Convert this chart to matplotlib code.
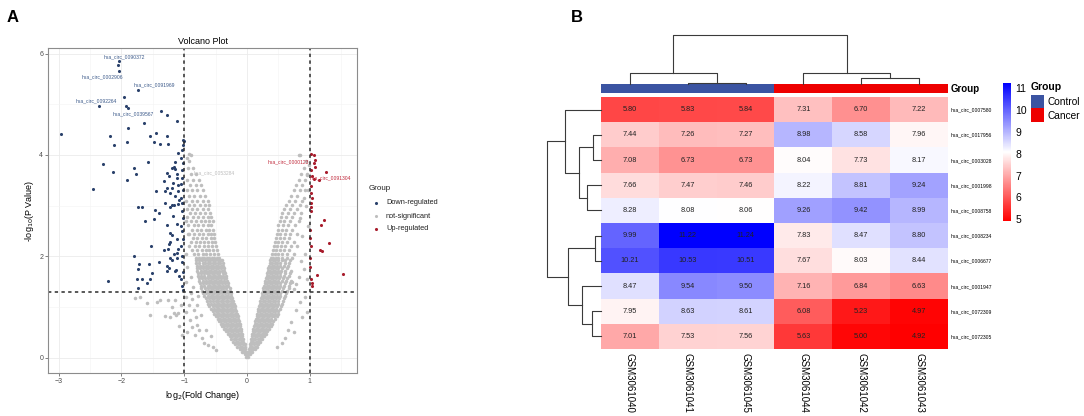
import matplotlib
matplotlib.use('Agg')
import matplotlib.pyplot as plt
import numpy as np
from matplotlib.colors import LinearSegmentedColormap, ListedColormap
from matplotlib.patches import Rectangle

plt.rcParams['font.family'] = ['Liberation Sans', 'DejaVu Sans']

# ---------------- panel A: volcano data ----------------
# not-significant cloud, one line per -log10(p) level: "y: x x x ..."
grey_rows = """
0.02: -0.01 0.01
0.07: -0.04 -0.02 0.02 0.04
0.12: -0.08 -0.05 -0.02 0.02 0.05 0.08
0.17: -0.12 -0.09 -0.06 -0.03 0.03 0.06 0.09 0.12
0.22: -0.16 -0.12 -0.08 -0.04 0.04 0.08 0.12 0.15
0.27: -0.19 -0.15 -0.11 -0.07 -0.04 0.04 0.07 0.11 0.15 0.18
0.32: -0.22 -0.18 -0.14 -0.10 -0.06 0.06 0.10 0.14 0.18 0.21
0.37: -0.25 -0.21 -0.17 -0.13 -0.09 -0.06 0.06 0.09 0.13 0.17 0.21 0.24
0.42: -0.28 -0.24 -0.20 -0.16 -0.12 -0.08 0.08 0.12 0.16 0.20 0.24 0.27
0.47: -0.31 -0.27 -0.23 -0.19 -0.15 -0.11 -0.08 0.08 0.11 0.15 0.19 0.23 0.27 0.30
0.52: -0.34 -0.30 -0.26 -0.22 -0.18 -0.14 -0.10 0.09 0.13 0.17 0.21 0.25 0.29 0.32
0.57: -0.37 -0.33 -0.29 -0.25 -0.21 -0.17 -0.13 -0.10 0.10 0.14 0.18 0.22 0.26 0.30 0.35
0.62: -0.40 -0.36 -0.32 -0.28 -0.24 -0.20 -0.16 -0.12 0.11 0.15 0.19 0.23 0.27 0.31 0.35 0.38
0.67: -0.42 -0.38 -0.34 -0.30 -0.26 -0.22 -0.18 -0.14 -0.12 0.12 0.16 0.20 0.24 0.28 0.32 0.36 0.40
0.72: -0.45 -0.41 -0.37 -0.33 -0.29 -0.25 -0.21 -0.17 -0.13 0.13 0.17 0.21 0.25 0.29 0.33 0.37 0.42
0.77: -0.47 -0.43 -0.39 -0.35 -0.31 -0.27 -0.23 -0.19 -0.15 0.14 0.18 0.22 0.26 0.30 0.34 0.38 0.44
0.82: -0.50 -0.46 -0.42 -0.38 -0.34 -0.30 -0.26 -0.22 -0.18 -0.15 0.15 0.19 0.23 0.27 0.31 0.35 0.39 0.43 0.47
0.87: -0.52 -0.48 -0.44 -0.40 -0.36 -0.32 -0.28 -0.24 -0.20 -0.16 0.16 0.20 0.24 0.28 0.32 0.36 0.40 0.44 0.49
0.92: -0.54 -0.50 -0.46 -0.42 -0.38 -0.34 -0.30 -0.26 -0.22 -0.17 0.17 0.21 0.25 0.29 0.33 0.37 0.41 0.45 0.50
0.97: -0.57 -0.52 -0.48 -0.44 -0.40 -0.36 -0.32 -0.28 -0.24 -0.19 0.18 0.22 0.26 0.30 0.34 0.38 0.42 0.46 0.52
1.02: -0.60 -0.55 -0.50 -0.46 -0.42 -0.38 -0.34 -0.30 -0.26 -0.22 -0.20 0.19 0.23 0.27 0.31 0.35 0.39 0.43 0.47 0.54
1.07: -0.62 -0.57 -0.52 -0.48 -0.44 -0.40 -0.36 -0.32 -0.28 -0.24 -0.21 0.20 0.24 0.28 0.32 0.36 0.40 0.44 0.49 0.56
1.12: -0.64 -0.59 -0.54 -0.50 -0.46 -0.42 -0.38 -0.34 -0.30 -0.26 -0.22 0.21 0.25 0.29 0.33 0.37 0.41 0.45 0.50 0.57
1.17: -0.66 -0.61 -0.56 -0.52 -0.48 -0.44 -0.40 -0.36 -0.32 -0.28 -0.24 0.22 0.26 0.30 0.34 0.38 0.42 0.46 0.51 0.59
1.22: -0.68 -0.63 -0.58 -0.54 -0.50 -0.46 -0.42 -0.38 -0.34 -0.30 -0.25 0.23 0.27 0.31 0.35 0.39 0.43 0.47 0.52 0.61
1.27: -0.70 -0.65 -0.60 -0.56 -0.52 -0.48 -0.44 -0.40 -0.35 -0.31 -0.26 0.24 0.28 0.32 0.36 0.40 0.44 0.48 0.53 0.62
1.32: -0.72 -0.66 -0.61 -0.57 -0.53 -0.49 -0.45 -0.41 -0.37 -0.32 -0.27 0.25 0.29 0.33 0.37 0.41 0.45 0.49 0.55 0.64
1.37: -0.73 -0.67 -0.62 -0.58 -0.54 -0.50 -0.46 -0.42 -0.38 -0.33 -0.28 0.26 0.30 0.34 0.38 0.42 0.46 0.51 0.57 0.66
1.42: -0.74 -0.68 -0.63 -0.59 -0.55 -0.51 -0.47 -0.43 -0.39 -0.34 -0.30 0.27 0.31 0.35 0.39 0.43 0.47 0.52 0.58 0.67
1.47: -0.75 -0.70 -0.65 -0.60 -0.56 -0.52 -0.48 -0.44 -0.40 -0.35 -0.31 0.28 0.32 0.36 0.40 0.44 0.48 0.53 0.60 0.68
1.52: -0.76 -0.71 -0.66 -0.61 -0.57 -0.53 -0.49 -0.45 -0.41 -0.36 -0.32 0.29 0.33 0.37 0.41 0.45 0.49 0.55 0.62 0.70
1.57: -0.77 -0.72 -0.67 -0.62 -0.58 -0.54 -0.50 -0.46 -0.42 -0.37 -0.33 0.30 0.34 0.38 0.42 0.46 0.51 0.57 0.64
1.62: -0.78 -0.73 -0.68 -0.63 -0.59 -0.55 -0.51 -0.47 -0.43 -0.38 -0.34 0.31 0.35 0.39 0.43 0.47 0.52 0.58 0.66
1.67: -0.78 -0.73 -0.68 -0.64 -0.60 -0.56 -0.52 -0.48 -0.44 -0.39 -0.35 0.32 0.36 0.40 0.44 0.48 0.53 0.60 0.68
1.72: -0.79 -0.74 -0.69 -0.65 -0.61 -0.57 -0.53 -0.49 -0.45 -0.40 -0.36 0.33 0.37 0.41 0.45 0.49 0.54 0.61 0.70
1.77: -0.80 -0.75 -0.70 -0.66 -0.62 -0.58 -0.54 -0.50 -0.46 -0.41 -0.37 0.34 0.38 0.42 0.46 0.50 0.56 0.63
1.82: -0.80 -0.75 -0.70 -0.66 -0.62 -0.58 -0.54 -0.50 -0.46 -0.42 -0.38 0.35 0.39 0.43 0.47 0.52 0.58 0.65
1.87: -0.81 -0.76 -0.71 -0.67 -0.63 -0.59 -0.55 -0.51 -0.47 -0.43 -0.39 0.36 0.40 0.44 0.48 0.53 0.60 0.67
1.92: -0.82 -0.77 -0.72 -0.67 -0.63 -0.59 -0.55 -0.51 -0.47 -0.43 -0.40 0.37 0.41 0.45 0.49 0.55 0.61 0.69
1.97: -0.82 -0.77 -0.72 -0.68 -0.64 -0.60 -0.56 -0.52 -0.48 -0.44 0.38 0.42 0.46 0.50 0.56 0.63 0.72
2.05: -0.85 -0.78 -0.71 -0.65 -0.59 -0.53 -0.47 0.40 0.45 0.50 0.56 0.63 0.74
2.13: -0.88 -0.80 -0.72 -0.66 -0.60 -0.54 -0.48 0.41 0.46 0.52 0.58 0.66
2.21: -0.83 -0.76 -0.69 -0.62 -0.56 -0.50 0.43 0.48 0.54 0.60 0.70
2.29: -0.90 -0.82 -0.75 -0.68 -0.62 -0.56 -0.51 0.44 0.50 0.56 0.63 0.75
2.37: -0.86 -0.79 -0.72 -0.65 -0.58 -0.52 0.46 0.52 0.58 0.66
2.45: -0.92 -0.84 -0.77 -0.70 -0.63 -0.57 -0.53 0.47 0.53 0.60 0.69 0.80
2.53: -0.88 -0.80 -0.73 -0.66 -0.60 -0.54 0.49 0.55 0.62 0.72
2.61: -0.94 -0.85 -0.78 -0.70 -0.63 -0.57 0.50 0.57 0.65 0.76
2.69: -0.89 -0.81 -0.74 -0.67 -0.60 -0.55 0.52 0.59 0.68 0.82
2.77: -0.95 -0.86 -0.78 -0.70 -0.63 -0.57 0.54 0.62 0.71
2.85: -0.91 -0.83 -0.75 -0.67 -0.59 0.56 0.65 0.75 0.86
2.93: -0.96 -0.87 -0.79 -0.71 -0.63 0.59 0.68 0.79
3.01: -0.92 -0.84 -0.75 -0.67 -0.60 0.62 0.72 0.84
3.10: -0.97 -0.88 -0.80 -0.71 -0.63 0.66 0.76 0.88
3.20: -0.93 -0.84 -0.75 -0.67 0.70 0.80
3.30: -0.96 -0.88 -0.79 -0.70 0.74 0.85 0.92
3.40: -0.91 -0.82 -0.74 0.78 0.88
3.50: -0.95 -0.86 -0.77 0.82 0.92
3.62: -0.90 -0.82 0.86 0.95
3.75: -0.94 -0.86 0.90
3.88: -0.92 0.94
4.00: -0.90 0.84
"""

grey_extra = [(-1.79, 1.18), (-1.71, 1.20), (-1.60, 1.08), (-1.44, 1.11), (-1.39, 1.14),
              (-1.26, 1.14), (-1.20, 1.01), (-1.15, 1.14), (-1.55, 0.85), (-1.31, 0.83),
              (-1.23, 0.80), (-1.13, 0.85), (-1.10, 0.88), (-1.17, 0.88), (-1.05, 1.05),
              (-1.08, 0.62), (-1.04, 0.45), (-0.97, 1.20), (-0.93, 1.05), (-0.98, 0.90),
              (-0.88, 1.15), (-0.85, 0.95), (-0.91, 0.75), (-0.82, 0.80), (-0.87, 0.60),
              (-0.79, 0.65), (-0.95, 0.50), (-0.83, 0.45), (-0.76, 0.55), (-0.72, 0.40),
              (-0.68, 0.30), (-0.62, 0.25), (-0.74, 0.85), (-0.66, 0.55), (-0.58, 0.42),
              (-0.55, 0.22), (-0.50, 0.15), (-0.80, 1.05), (-0.90, 1.28), (-0.78, 1.22),
              (-0.97, 1.50), (-0.95, 1.80), (-0.92, 2.20), (-0.90, 1.60), (-0.86, 1.40),
              (-0.97, 2.05), (-0.94, 2.45), (-0.98, 2.70), (-0.96, 3.95), (-0.93, 4.02),
              (0.60, 0.40), (0.70, 0.70), (0.78, 0.95), (0.85, 1.10), (0.92, 1.20),
              (0.55, 0.30), (0.65, 0.55), (0.95, 0.90), (0.75, 0.50), (0.48, 0.22),
              (0.88, 0.80), (0.78, 1.45), (0.82, 1.60), (0.90, 1.75), (0.95, 1.55),
              (0.86, 1.90), (0.92, 2.05), (0.80, 2.20), (0.88, 2.40), (0.97, 2.60),
              (0.85, 2.75), (0.93, 3.00), (0.97, 3.30), (0.90, 3.15), (0.95, 3.60),
              (0.98, 3.80), (0.82, 4.00), (0.75, 1.35), (0.72, 1.50)]

down_pts = [(-2.04, 5.85), (-2.05, 5.78), (-2.04, 5.66), (-1.96, 5.15), (-1.74, 5.29),
            (-1.93, 4.97), (-1.90, 4.92), (-2.36, 4.96), (-1.37, 4.87), (-1.27, 4.79),
            (-1.64, 4.64), (-1.12, 4.67), (-1.90, 4.53), (-2.96, 4.41), (-2.18, 4.37),
            (-1.54, 4.38), (-1.45, 4.43), (-1.27, 4.38), (-2.12, 4.20), (-1.91, 4.25),
            (-1.48, 4.25), (-1.39, 4.22), (-1.26, 4.22), (-1.10, 4.04), (-1.02, 4.20),
            (-1.00, 4.27), (-1.57, 3.87), (-2.29, 3.82), (-1.15, 3.86), (-2.13, 3.66),
            (-1.80, 3.74), (-1.77, 3.63), (-1.17, 3.76), (-1.92, 3.50), (-1.27, 3.64),
            (-1.33, 3.48), (-1.12, 3.54), (-2.45, 3.33), (-1.45, 3.28), (-1.31, 3.28),
            (-1.20, 3.34), (-1.10, 3.28), (-1.74, 2.97), (-1.67, 2.97), (-1.46, 2.91),
            (-1.41, 2.85), (-1.62, 2.70), (-1.49, 2.74), (-1.22, 2.98), (-1.16, 3.02),
            (-1.10, 3.04), (-1.18, 2.79), (-1.27, 2.62), (-1.12, 2.64), (-1.22, 2.46),
            (-1.19, 2.43), (-1.12, 2.34), (-1.23, 2.29), (-1.24, 2.25), (-1.53, 2.20),
            (-1.32, 2.13), (-1.26, 2.14), (-1.10, 2.14), (-1.17, 2.05), (-1.11, 2.07),
            (-1.80, 2.01), (-1.23, 1.97), (-1.20, 1.93), (-1.12, 1.97), (-1.40, 1.89),
            (-1.72, 1.85), (-1.56, 1.85), (-1.74, 1.76), (-1.27, 1.81), (-1.24, 1.77),
            (-1.27, 1.72), (-1.15, 1.72), (-1.13, 1.74), (-1.52, 1.67), (-1.08, 1.62),
            (-2.22, 1.52), (-1.75, 1.55), (-1.68, 1.55), (-1.55, 1.55), (-1.59, 1.47),
            (-1.73, 1.37), (-1.02, 4.30), (-1.03, 4.10), (-1.05, 3.95), (-1.02, 3.85),
            (-1.04, 3.70), (-1.03, 3.55), (-1.06, 3.42), (-1.02, 3.30), (-1.05, 3.15),
            (-1.03, 3.05), (-1.04, 2.90), (-1.02, 2.75), (-1.06, 2.60), (-1.03, 2.50),
            (-1.02, 2.35), (-1.05, 2.20), (-1.03, 2.00), (-1.04, 1.88), (-1.02, 1.70),
            (-1.05, 1.55), (-1.03, 1.42), (-1.02, 1.34), (-1.20, 3.75), (-1.15, 3.72),
            (-1.12, 3.62), (-1.25, 3.58), (-1.18, 3.45), (-1.10, 3.40), (-1.28, 3.35),
            (-1.22, 3.25), (-1.14, 3.20), (-1.08, 3.12), (-1.30, 3.05), (-1.20, 3.02)]

up_pts = [(1.07, 4.00), (1.08, 3.90), (1.07, 3.85), (1.08, 3.77), (1.26, 3.66),
          (1.03, 3.58), (1.07, 3.53), (1.14, 3.51), (1.02, 3.25), (1.03, 3.15),
          (1.02, 2.98), (1.02, 2.89), (1.22, 2.72), (1.18, 2.62), (1.00, 2.52),
          (1.00, 2.36), (1.30, 2.26), (1.16, 2.13), (1.19, 2.10), (1.00, 1.97),
          (1.11, 1.64), (1.53, 1.66), (1.03, 1.47), (1.04, 1.42), (1.01, 4.02),
          (1.02, 3.70), (1.01, 3.38), (1.01, 3.05), (1.01, 2.20), (1.00, 1.80),
          (1.02, 1.55)]

# gene labels: (name, x, y, group)
gene_labels = [('hsa_circ_0090372', -1.95, 5.94, 'down'),
               ('hsa_circ_0002906', -2.30, 5.54, 'down'),
               ('hsa_circ_0091969', -1.48, 5.38, 'down'),
               ('hsa_circ_0092264', -2.40, 5.07, 'down'),
               ('hsa_circ_0039567', -1.82, 4.81, 'down'),
               ('hsa_circ_0053284', -0.53, 3.65, 'ns'),
               ('hsa_circ_0000123', 0.65, 3.87, 'up'),
               ('hsa_circ_0091304', 1.32, 3.55, 'up')]

fc_cut = 1.0
p_cut = 1.301

# ---------------- panel B: heatmap data ----------------
samples = ['GSM3061040', 'GSM3061041', 'GSM3061045', 'GSM3061044', 'GSM3061042', 'GSM3061043']
groups = ['Control', 'Control', 'Control', 'Cancer', 'Cancer', 'Cancer']
circs = ['hsa_circ_0007580', 'hsa_circ_0017956', 'hsa_circ_0003028', 'hsa_circ_0001998',
         'hsa_circ_0008758', 'hsa_circ_0008234', 'hsa_circ_0006677', 'hsa_circ_0001947',
         'hsa_circ_0072309', 'hsa_circ_0072305']
expr = [[5.80, 5.83, 5.84, 7.31, 6.70, 7.22],
        [7.44, 7.26, 7.27, 8.98, 8.58, 7.96],
        [7.08, 6.73, 6.73, 8.04, 7.73, 8.17],
        [7.66, 7.47, 7.46, 8.22, 8.81, 9.24],
        [8.28, 8.08, 8.06, 9.26, 9.42, 8.99],
        [9.99, 11.22, 11.24, 7.83, 8.47, 8.80],
        [10.21, 10.53, 10.51, 7.67, 8.03, 8.44],
        [8.47, 9.54, 9.50, 7.16, 6.84, 6.63],
        [7.95, 8.63, 8.61, 6.08, 5.23, 4.97],
        [7.01, 7.53, 7.56, 5.63, 5.00, 4.92]]
# clustering merges: (node_a, node_b, height); new nodes numbered after leaves
row_merges = [(1, 2, 8), (3, 4, 14), (10, 11, 22), (0, 12, 36), (5, 6, 6),
              (8, 9, 9), (7, 15, 19), (14, 16, 33), (13, 17, 54)]
col_merges = [(1, 2, 0.3), (0, 6, 2.6), (4, 5, 1.4), (3, 8, 2.6), (7, 9, 11.5)]

# ---------------- figure ----------------
W, H = 1084, 416
fig = plt.figure(figsize=(W / 100, H / 100), dpi=100)


def rect(l, t, r, b):
    return [l / W, 1 - b / H, (r - l) / W, (b - t) / H]


gx, gy = [], []
for line in grey_rows.strip().splitlines():
    yv, xs = line.split(':')
    for xv in xs.split():
        gx.append(float(xv))
        gy.append(float(yv))
gx += [p[0] for p in grey_extra]
gy += [p[1] for p in grey_extra]

c_ns, c_down, c_up = '#BEBEBE', '#2A416B', '#A81C2C'

ax = fig.add_axes(rect(48, 48, 357, 373))
ax.set_xlim(-3.17, 1.75)
ax.set_ylim(-0.30, 6.11)
ax.set_xticks([-3, -2, -1, 0, 1])
ax.set_yticks([0, 2, 4, 6])
ax.set_xticks([-2.5, -1.5, -0.5, 0.5, 1.5], minor=True)
ax.set_yticks([1, 3, 5], minor=True)
ax.grid(which='major', color='#EBEBEB', lw=0.6)
ax.grid(which='minor', color='#F4F4F4', lw=0.4)
ax.set_axisbelow(True)
ax.tick_params(which='major', labelsize=5, colors='#4D4D4D', length=2, width=0.5, pad=1.5)
ax.tick_params(which='minor', length=0)
for s in ax.spines.values():
    s.set_color('#8C8C8C')
    s.set_linewidth(0.8)

ax.scatter(gx, gy, s=6.5, c=c_ns, linewidths=0)
ax.scatter([p[0] for p in down_pts], [p[1] for p in down_pts], s=5, c=c_down, linewidths=0)
ax.scatter([p[0] for p in up_pts], [p[1] for p in up_pts], s=5, c=c_up, linewidths=0)
dash = (0, (2.2, 2.2))
ax.axvline(-fc_cut, color='#2B2B2B', lw=1.1, ls=dash)
ax.axvline(fc_cut, color='#2B2B2B', lw=1.1, ls=dash)
ax.axhline(p_cut, color='#2B2B2B', lw=1.1, ls=dash)

lab_col = {'down': '#3C5A8A', 'ns': '#BDBDBD', 'up': '#C0283A'}
for name, x, y, g in gene_labels:
    ax.text(x, y, name, fontsize=3.6, color=lab_col[g], ha='center', va='center')

ax.set_title('Volcano Plot', fontsize=6.5, pad=3)
ax.set_xlabel('log$_{2}$(Fold Change)', fontsize=6.5, labelpad=3)
ax.set_ylabel('-log$_{10}$(P Value)', fontsize=6.5, labelpad=2)

# heatmap
cmap = LinearSegmentedColormap.from_list('rwb', ['#FF0000', '#FFFFFF', '#0000FF'])
vals = np.array(expr)
vmin, vmax = vals.min(), vals.max()
hm = fig.add_axes(rect(601, 97, 948, 349))
im = hm.imshow(vals, cmap=cmap, vmin=vmin, vmax=vmax, aspect='auto',
               extent=(0, len(samples), len(circs), 0), interpolation='nearest')
for i in range(len(circs)):
    for j in range(len(samples)):
        hm.text(j + 0.5, i + 0.5, f'{expr[i][j]:.2f}', ha='center', va='center',
                fontsize=5.3, color='#222222')
hm.set_xticks(np.arange(len(samples)) + 0.5)
hm.set_xticklabels(samples, rotation=270, fontsize=7)
hm.set_yticks(np.arange(len(circs)) + 0.5)
hm.set_yticklabels(circs, fontsize=3.6)
hm.yaxis.tick_right()
hm.tick_params(length=0, pad=2)
hm.tick_params(axis='x', pad=3)
for s in hm.spines.values():
    s.set_visible(False)

# group annotation bar
grp_col = {'Control': '#3B54A2', 'Cancer': '#EE0000'}
gb = fig.add_axes(rect(601, 84, 948, 93))
gb.imshow([[0 if g == 'Control' else 1 for g in groups]], aspect='auto',
          cmap=ListedColormap([grp_col['Control'], grp_col['Cancer']]), vmin=0, vmax=1,
          extent=(0, len(samples), 1, 0))
gb.axis('off')


def draw_dendro(dax, merges, n, vertical):
    pos = {i: i + 0.5 for i in range(n)}
    hgt = {i: 0.0 for i in range(n)}
    for k, (a, b, h) in enumerate(merges):
        p = [pos[a], pos[a], pos[b], pos[b]]
        q = [hgt[a], h, h, hgt[b]]
        if vertical:
            dax.plot(p, q, color='#3A3A3A', lw=0.8, clip_on=False)
        else:
            dax.plot(q, p, color='#3A3A3A', lw=0.8, clip_on=False)
        pos[n + k] = (pos[a] + pos[b]) / 2
        hgt[n + k] = h


cd = fig.add_axes(rect(601, 35, 948, 84))
cd.set_xlim(0, len(samples))
cd.set_ylim(0, 11.6)
draw_dendro(cd, col_merges, len(samples), True)
cd.axis('off')

rd = fig.add_axes(rect(545, 97, 601, 349))
rd.set_xlim(56, 0)
rd.set_ylim(len(circs), 0)
draw_dendro(rd, row_merges, len(circs), False)
rd.axis('off')

# colorbar
cax = fig.add_axes(rect(1003, 83, 1011, 221))
cb = fig.colorbar(im, cax=cax, ticks=range(5, 12))
cb.outline.set_visible(False)
cax.tick_params(length=0, labelsize=7.5, pad=3)

# overlay in pixel coordinates for legends and panel letters
ov = fig.add_axes([0, 0, 1, 1])
ov.set_xlim(0, W)
ov.set_ylim(H, 0)
ov.axis('off')
ov.text(13, 18, 'A', fontsize=12, fontweight='bold', ha='center', va='center')
ov.text(577, 18, 'B', fontsize=12, fontweight='bold', ha='center', va='center')

# volcano legend
ov.text(369, 189, 'Group', fontsize=5.8, ha='left', va='center', color='#222222')
for k, (lab, c) in enumerate([('Down-regulated', c_down), ('not-significant', c_ns),
                               ('Up-regulated', c_up)]):
    yy = 203 + 13 * k
    ov.scatter([376], [yy], s=5, c=c, linewidths=0)
    ov.text(386, yy, lab, fontsize=5.3, ha='left', va='center', color='#222222')

# heatmap labels / legend
ov.text(951, 89, 'Group', fontsize=7, fontweight='bold', ha='left', va='center')
ov.text(1031, 87, 'Group', fontsize=7.5, fontweight='bold', ha='left', va='center')
ov.add_patch(Rectangle((1031, 95), 13, 13, color=grp_col['Control'], lw=0))
ov.add_patch(Rectangle((1031, 108), 13, 14, color=grp_col['Cancer'], lw=0))
ov.text(1048, 102, 'Control', fontsize=7.3, ha='left', va='center')
ov.text(1048, 116, 'Cancer', fontsize=7.3, ha='left', va='center')

fig.savefig('out.png', dpi=100)
